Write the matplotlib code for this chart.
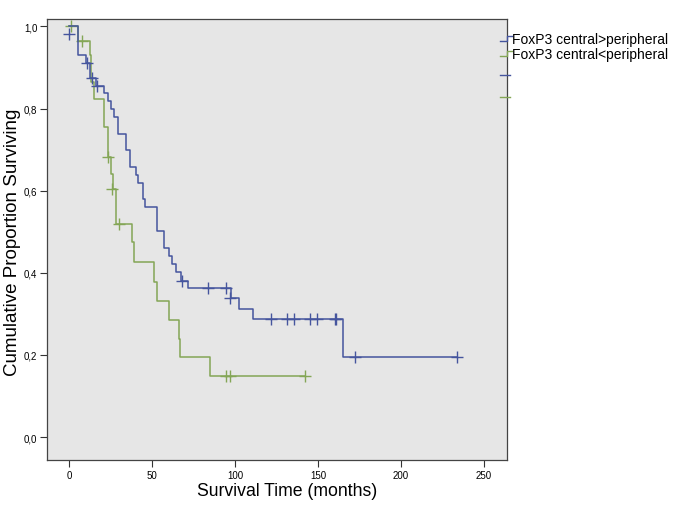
import matplotlib
matplotlib.use("Agg")
import matplotlib.pyplot as plt
from matplotlib.lines import Line2D

# Kaplan-Meier step points (time in months, survival after the step)
high_times = [0, 5.6, 10.5, 12.9, 16.0, 21.0, 23.5, 25.0, 27.2, 29.2, 34.2, 36.8, 40.2,
              41.3, 44.8, 45.9, 52.9, 57.0, 60.4, 62.0, 64.4, 67.4, 71.4, 97.6, 102.2,
              111.1, 165.0, 233.5]
high_surv = [1.0, 0.931, 0.911, 0.874, 0.856, 0.838, 0.819, 0.799, 0.779, 0.738, 0.699,
             0.658, 0.638, 0.618, 0.580, 0.560, 0.501, 0.460, 0.440, 0.421, 0.401, 0.381,
             0.362, 0.339, 0.312, 0.287, 0.194, 0.194]
high_cens_t = [0, 11.0, 14.0, 17.0, 67.8, 84.0, 94.6, 97.0, 121.4, 131.2, 135.3, 145.3,
               149.3, 160.1, 161.0, 172.5, 233.5]
high_cens_s = [0.982, 0.911, 0.874, 0.856, 0.381, 0.362, 0.362, 0.339, 0.287, 0.287,
               0.287, 0.287, 0.287, 0.287, 0.287, 0.194, 0.194]

low_times = [0, 5.5, 12.5, 13.5, 15.0, 21.0, 23.3, 25.0, 26.5, 28.0, 37.8, 39.0, 51.3,
             53.0, 60.0, 66.4, 67.0, 85.0, 142.0]
low_surv = [1.0, 0.965, 0.931, 0.864, 0.823, 0.754, 0.681, 0.641, 0.604, 0.519, 0.474,
            0.427, 0.378, 0.332, 0.285, 0.239, 0.194, 0.148, 0.148]
low_cens_t = [1.0, 8.0, 23.5, 25.8, 29.8, 94.6, 97.0, 142.0]
low_cens_s = [1.0, 0.965, 0.681, 0.604, 0.519, 0.148, 0.148, 0.148]

labels = ["FoxP3 central>peripheral", "FoxP3 central<peripheral"]
x_ticks = [0, 50, 100, 150, 200, 250]
y_ticks = [0.0, 0.2, 0.4, 0.6, 0.8, 1.0]

blue = "#45559e"
green = "#84a656"
font = "Liberation Sans"

fig = plt.figure(figsize=(6.73, 5.06), dpi=100)
ax = fig.add_axes([47 / 673, 45 / 506, 460 / 673, 441 / 506])
ax.set_facecolor("#e6e6e6")

ax.step(low_times, low_surv, where="post", color=green, lw=1.1)
ax.plot(low_cens_t, low_cens_s, ls="none", marker="+", ms=9, mew=1.0, color=green)
ax.step(high_times, high_surv, where="post", color=blue, lw=1.1)
ax.plot(high_cens_t, high_cens_s, ls="none", marker="+", ms=9, mew=1.0, color=blue)

ax.set_xlim(-13.3, 263.9)
ax.set_ylim(-0.056, 1.018)
ax.set_xticks(x_ticks)
ax.set_xticklabels([str(v) for v in x_ticks], fontsize=7, family=font)
ax.set_yticks(y_ticks)
ax.set_yticklabels([f"{v:.1f}".replace(".", ",") for v in y_ticks], fontsize=7, family=font)
ax.tick_params(direction="out", length=5, width=0.8, color="#333333", pad=2)
for sp in ax.spines.values():
    sp.set_color("#444444")
    sp.set_linewidth(0.9)

W, H = 673.0, 506.0
def px(x, y):
    return x / W, 1 - y / H

# axis titles placed where the reference has them
fig.text(*px(287, 492), "Survival Time (months)", fontsize=12.7, family=font,
         ha="center", va="center")
fig.text(*px(13, 242), "Cumulative Proportion Surviving", fontsize=13.5, family=font,
         ha="center", va="center", rotation=90)

# legend drawn by hand to get the SPSS step symbols
for (color, label, y) in [(blue, labels[0], 40), (green, labels[1], 55)]:
    xs = [500, 507, 507, 512]
    ys = [y + 2, y + 2, y - 3, y - 3]
    pts = [px(a, b) for a, b in zip(xs, ys)]
    fig.add_artist(Line2D([p[0] for p in pts], [p[1] for p in pts], color=color, lw=1.0))
    fig.text(*px(512, y), label, fontsize=10, family=font, va="center", ha="left")

for color, y in [(blue, 76), (green, 98)]:
    a = px(500, y)
    b = px(510, y)
    fig.add_artist(Line2D([a[0], b[0]], [a[1], b[1]], color=color, lw=1.0))

fig.savefig("out.png", dpi=100)
